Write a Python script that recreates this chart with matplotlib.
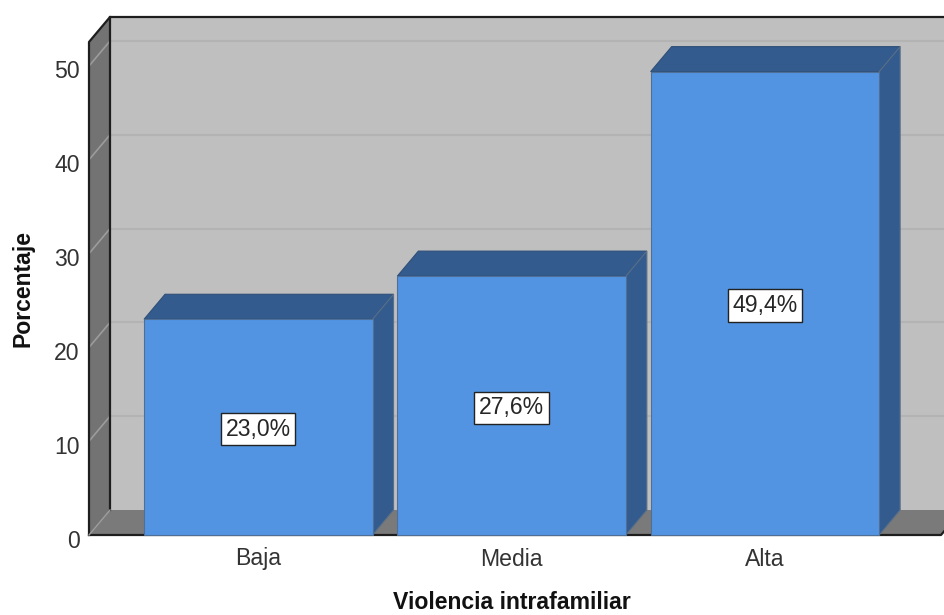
import matplotlib
matplotlib.use('Agg')
import matplotlib.pyplot as plt
from matplotlib.patches import Polygon
from matplotlib.transforms import ScaledTranslation

plt.rcParams['font.family'] = ['Liberation Sans', 'DejaVu Sans']

categories = ['Baja', 'Media', 'Alta']
valores = [23.0, 27.6, 49.4]
etiquetas = ['23,0%', '27,6%', '49,4%']
yticks = [0, 10, 20, 30, 40, 50]

W, H = 944, 615
LEFT, RIGHT, BOTTOM, TOP = 89, 941, 535, 42   # front plane in pixels
PASO = 253.3      # pixels per category
DX = 21 / PASO    # 3d depth in category units
DY = 25 / 9.38    # 3d depth in percent units
ANCHO = 228.5 / PASO

fig = plt.figure(figsize=(W / 100, H / 100), dpi=100, facecolor='white')
ax = fig.add_axes([LEFT / W, (H - BOTTOM) / H, (W - LEFT) / W, (BOTTOM - TOP) / H])
x0 = (LEFT - 258.3) / PASO
x1 = (W - 258.3) / PASO
xr = (RIGHT - 258.3) / PASO
ymax = (BOTTOM - TOP) / 9.38
ax.set_xlim(x0, x1)
ax.set_ylim(0, ymax)
for s in ax.spines.values():
    s.set_visible(False)
ax.patch.set_visible(False)


def poly(pts, color, edge='none', lw=0, z=1):
    ax.add_patch(Polygon(pts, closed=True, facecolor=color, edgecolor=edge,
                         linewidth=lw, zorder=z, clip_on=False))


# walls
poly([(x0 + DX, DY), (xr + DX, DY), (xr + DX, ymax + DY), (x0 + DX, ymax + DY)], '#BFBFBF')
poly([(x0, 0), (x0 + DX, DY), (x0 + DX, ymax + DY), (x0, ymax)], '#737373')
poly([(x0, 0), (xr, 0), (xr + DX, DY), (x0 + DX, DY)], '#7A7A7A')

# gridlines
for t in yticks[1:]:
    ax.plot([x0 + DX, xr + DX], [t + DY, t + DY], color='#B3B3B3', lw=1.5, zorder=2, clip_on=False)
    ax.plot([x0, x0 + DX], [t, t + DY], color='#9C9C9C', lw=1.2, zorder=2, clip_on=False)

# frame lines
negro = '#1E1E1E'
ax.plot([x0, x0, x0 + DX, xr + DX], [0, ymax, ymax + DY, ymax + DY], color=negro, lw=1.6, zorder=3, clip_on=False)
ax.plot([x0 + DX, x0 + DX], [DY, ymax + DY], color=negro, lw=1.6, zorder=3, clip_on=False)
ax.plot([x0, xr, xr + DX], [0, 0, DY], color=negro, lw=1.6, zorder=3, clip_on=False)
ax.plot([x0, x0 + DX], [0, DY], color='#9C9C9C', lw=1, zorder=3, clip_on=False)

# bars
for i, v in enumerate(valores):
    a, b = i - ANCHO / 2, i + ANCHO / 2
    poly([(a, v), (b, v), (b + DX, v + DY), (a + DX, v + DY)], '#335B8E', '#2F4F78', 0.8, 4)
    poly([(b, 0), (b + DX, DY), (b + DX, v + DY), (b, v)], '#335B8E', '#5A7088', 0.8, 4)
    ax.bar(i, v, width=ANCHO, color='#5294E2', edgecolor='#4F6F96', linewidth=0.8, zorder=5, clip_on=False)
    ax.annotate(etiquetas[i], (i, v / 2), xytext=(0, -1.6), textcoords='offset points',
                ha='center', va='center', fontsize=16.6, color='#262626', zorder=6,
                bbox=dict(boxstyle='square,pad=0.2', facecolor='white', edgecolor='#222222', linewidth=1))

ax.set_xticks(range(len(categories)))
ax.set_xticklabels(categories, fontsize=16.6, color='#333333')
ax.set_yticks(yticks)
ax.set_yticklabels([str(t) for t in yticks], fontsize=16.6, color='#333333')
ax.tick_params(axis='x', length=0, pad=9)
ax.tick_params(axis='y', length=0, pad=6.7)

# y labels sit a little under their gridlines in the original
baja = ScaledTranslation(0, -3.5 / 100, fig.dpi_scale_trans)
for lab in ax.get_yticklabels():
    lab.set_transform(lab.get_transform() + baja)

ax.set_xlabel('Violencia intrafamiliar', fontsize=16.6, fontweight='bold', color='#111111')
ax.set_ylabel('Porcentaje', fontsize=16.6, fontweight='bold', color='#111111')
ax.xaxis.set_label_coords((512 - LEFT) / (W - LEFT), -(591 - BOTTOM) / (BOTTOM - TOP))
ax.yaxis.set_label_coords(-(LEFT - 35) / (W - LEFT), 0.5)

fig.savefig('out.png', dpi=100, facecolor='white')
